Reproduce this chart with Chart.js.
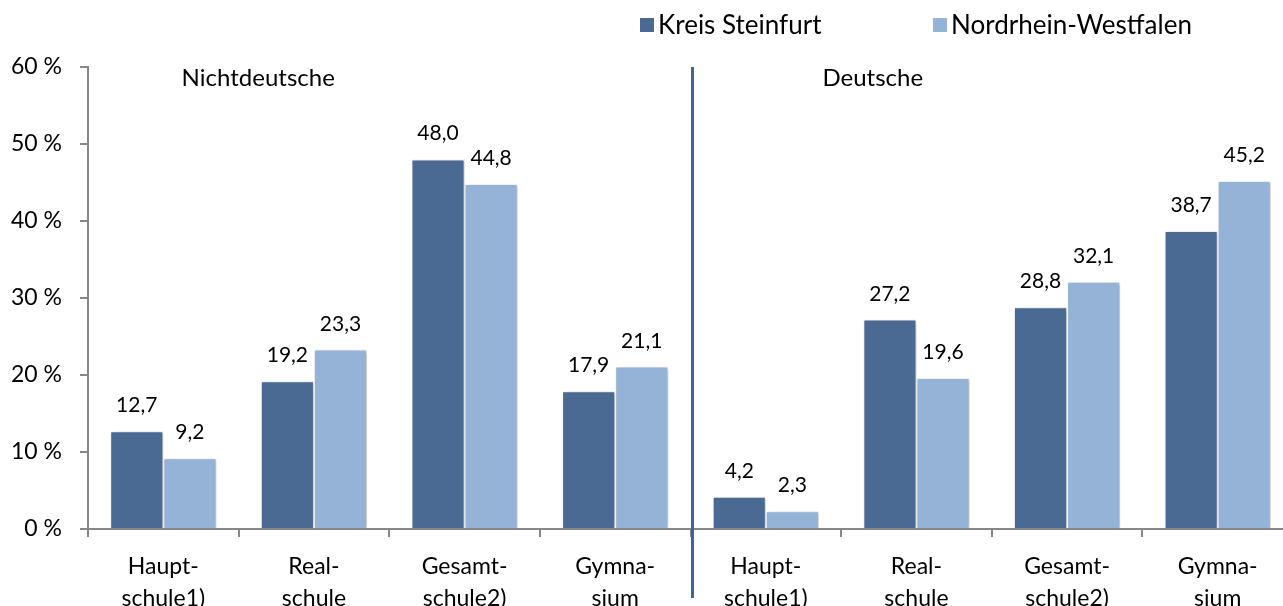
<!DOCTYPE html>
<html lang="de">
<head>
<meta charset="utf-8">
<title>Schulformen Kreis Steinfurt / NRW</title>
<script src="https://cdn.jsdelivr.net/npm/chart.js@4"></script>
<style>
  html, body { margin: 0; padding: 0; background: #fff; overflow: hidden; }
  #wrap { width: 1300px; height: 606px; position: relative; }
</style>
</head>
<body>
<div id="wrap"><canvas id="chart"></canvas></div>
<script>
// ── Daten ──────────────────────────────────────────────────────────────────
const categories = [
  ["Haupt-", "schule1)"], ["Real-", "schule"], ["Gesamt-", "schule2)"], ["Gymna-", "sium"],
  ["Haupt-", "schule1)"], ["Real-", "schule"], ["Gesamt-", "schule2)"], ["Gymna-", "sium"],
];
const seriesNames    = ["Kreis Steinfurt", "Nordrhein-Westfalen"];
const kreisSteinfurt = [12.7, 19.2, 48.0, 17.9, 4.2, 27.2, 28.8, 38.7];
const nordrheinWestf = [9.2, 23.3, 44.8, 21.1, 2.3, 19.6, 32.1, 45.2];
const groupNames     = ["Nichtdeutsche", "Deutsche"];
const yMax  = 60;
const yStep = 10;

const COLOR = {
  dark:    "#4A6A94",
  light:   "#95B3D7",
  axis:    "#878787",
  divider: "#3F6593",
  text:    "#000000",
};
const FONT = "Lato, 'Open Sans', sans-serif";

const fmt = (v) => v.toFixed(1).replace(".", ",");

// Schatten unter den Balken
const shadowPlugin = {
  id: "barShadow",
  beforeDatasetsDraw(chart) {
    const ctx = chart.ctx;
    ctx.save();
    ctx.shadowColor = "rgba(0,0,0,0.28)";
    ctx.shadowBlur = 4;
    ctx.shadowOffsetX = 1.5;
    ctx.shadowOffsetY = 1;
  },
  afterDatasetsDraw(chart) {
    chart.ctx.restore();
  },
};

// Werte, Trennlinie, Gruppentitel, Legende
const overlayPlugin = {
  id: "overlay",
  afterDraw(chart) {
    const { ctx, scales: { x, y } } = chart;
    ctx.save();

    // Werte über den Balken
    ctx.font = `21px ${FONT}`;
    ctx.fillStyle = COLOR.text;
    ctx.textAlign = "center";
    ctx.textBaseline = "alphabetic";
    chart.data.datasets.forEach((ds, di) => {
      chart.getDatasetMeta(di).data.forEach((bar, i) => {
        ctx.fillText(fmt(ds.data[i]), bar.x, bar.y - 19);
      });
    });

    // Trennlinie zwischen den Gruppen
    const half = categories.length / 2;
    const xDiv = (x.getPixelForValue(half - 1) + x.getPixelForValue(half)) / 2 + 2;
    ctx.strokeStyle = COLOR.divider;
    ctx.lineWidth = 3;
    ctx.beginPath();
    ctx.moveTo(xDiv, y.getPixelForValue(yMax));
    ctx.lineTo(xDiv, chart.height - 8);
    ctx.stroke();

    // Gruppentitel
    ctx.font = `24px ${FONT}`;
    ctx.textAlign = "center";
    const titleX = [0.63, 4.71];
    groupNames.forEach((g, i) => {
      const px = x.getPixelForValue(0) + titleX[i] * (x.getPixelForValue(1) - x.getPixelForValue(0));
      ctx.fillText(g, px, y.getPixelForValue(57.5));
    });

    // Legende
    const legendX = [640, 933];
    const legendY = 25;
    ctx.font = `26px ${FONT}`;
    ctx.textAlign = "left";
    ctx.textBaseline = "middle";
    chart.data.datasets.forEach((ds, i) => {
      ctx.fillStyle = ds.backgroundColor;
      ctx.fillRect(legendX[i], legendY - 7, 14, 14);
      ctx.fillStyle = COLOR.text;
      ctx.fillText(ds.label, legendX[i] + 18, legendY + 1);
    });

    ctx.restore();
  },
};

function draw() {
  new Chart(document.getElementById("chart"), {
    type: "bar",
    data: {
      labels: categories,
      datasets: [
        { label: seriesNames[0], data: kreisSteinfurt, backgroundColor: COLOR.dark,  borderColor: "#ffffff", borderWidth: 1 },
        { label: seriesNames[1], data: nordrheinWestf, backgroundColor: COLOR.light, borderColor: "#ffffff", borderWidth: 1 },
      ],
    },
    options: {
      responsive: true,
      maintainAspectRatio: false,
      animation: false,
      datasets: { bar: { barPercentage: 1, categoryPercentage: 0.705 } },
      layout: { padding: { top: 67, right: 7, bottom: 0, left: 0 } },
      plugins: { legend: { display: false }, tooltip: { enabled: false } },
      scales: {
        x: {
          afterFit: (s) => { s.height = 77; },
          grid: { offset: true, drawOnChartArea: false, drawTicks: true, tickLength: 8, color: COLOR.axis, lineWidth: 2 },
          border: { display: true, color: COLOR.axis, width: 2 },
          ticks: { color: COLOR.text, padding: 13, maxRotation: 0, autoSkip: false, font: { family: FONT, size: 23, lineHeight: 1.4 } },
        },
        y: {
          min: 0,
          max: yMax,
          afterFit: (s) => { s.width = 88; },
          grid: { drawOnChartArea: false, drawTicks: true, tickLength: 8, color: COLOR.axis, lineWidth: 2 },
          border: { display: true, color: COLOR.axis, width: 2 },
          ticks: { stepSize: yStep, color: COLOR.text, padding: 18, font: { family: FONT, size: 23 }, callback: (v) => `${v} %` },
        },
      },
    },
    plugins: [shadowPlugin, overlayPlugin],
  });
}

if (document.fonts && document.fonts.load) {
  document.fonts.load(`23px ${FONT}`).then(draw, draw);
} else {
  draw();
}
</script>
</body>
</html>
